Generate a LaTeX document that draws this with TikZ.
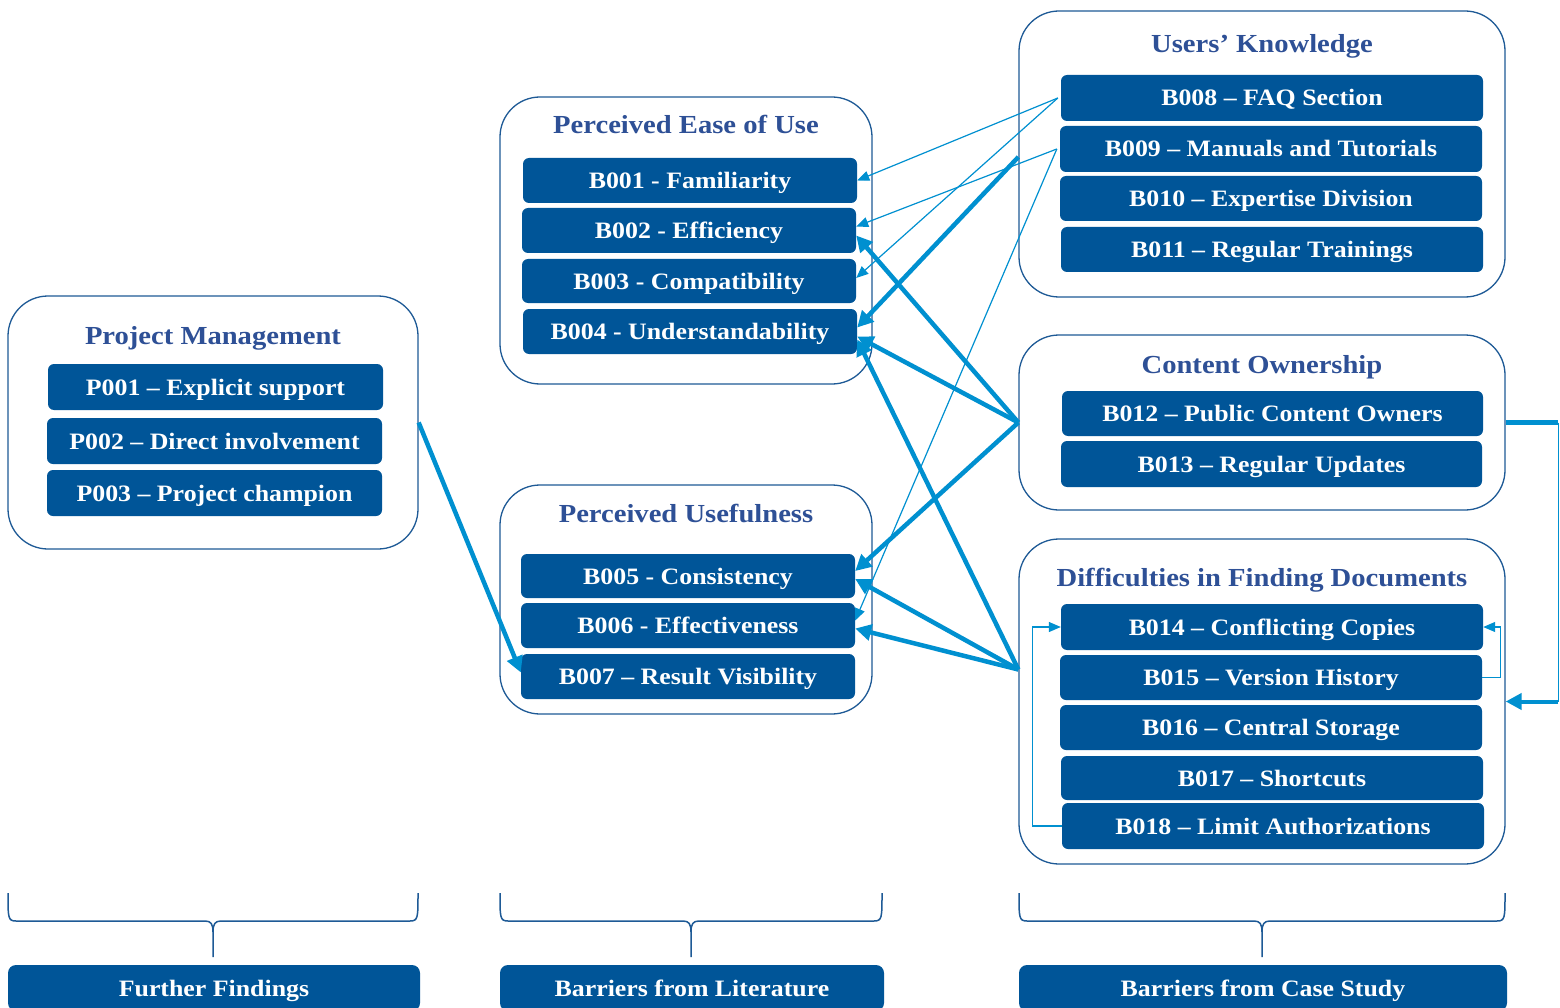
\documentclass[tikz,border=0pt]{standalone}
\usepackage{fontspec}
\setmainfont{Liberation Serif}[FakeStretch=1.1]
\usetikzlibrary{arrows.meta,calc}
\definecolor{boxblue}{RGB}{0,85,152}
\definecolor{titleblue}{RGB}{46,80,150}
\definecolor{grpline}{RGB}{30,90,150}
\definecolor{arrowblue}{RGB}{0,144,208}
\begin{document}
\begin{tikzpicture}[x=1pt,y=-1pt,
  group/.style={draw=grpline, line width=1.3pt, rounded corners=40pt, inner sep=0, fill=white},
  bar/.style={fill=boxblue, rounded corners=6pt, text=white, font=\bfseries\fontsize{23.5}{26}\selectfont, inner sep=0, minimum height=45pt, text height=19pt, text depth=3pt},
  ttl/.style={text=titleblue, font=\bfseries\fontsize{26}{30}\selectfont, inner sep=0, text height=20pt, text depth=4pt},
  thinarr/.style={draw=arrowblue, line width=1.2pt, -{Triangle[length=12pt,width=10pt]}},
  thickarr/.style={draw=arrowblue, line width=4.5pt, -{Triangle[length=16pt,width=16pt]}},
  thickline/.style={draw=arrowblue, line width=4.5pt},
  bracestyle/.style={draw=grpline, line width=1.5pt},
  foot/.style={fill=boxblue, rounded corners=8pt, text=white, font=\bfseries\fontsize{23.5}{26}\selectfont, inner sep=0, minimum height=46pt, text height=19pt, text depth=3pt}]
\clip (0,0) rectangle (1560,1008);
\fill[white] (0,0) rectangle (1560,1008);

% groups
\node[group, minimum width=410pt, minimum height=253pt] (PM) at (213,422.5) {};
\node[group, minimum width=372pt, minimum height=287pt] (PEU) at (686,240.5) {};
\node[group, minimum width=372pt, minimum height=229pt] (PU) at (686,599.5) {};
\node[group, minimum width=486pt, minimum height=286pt] (UK) at (1262,154) {};
\node[group, minimum width=486pt, minimum height=175pt] (CO) at (1262,422.5) {};
\node[group, minimum width=486pt, minimum height=325pt] (DF) at (1262,701.5) {};

% titles
\node[ttl] (tPM) at (213,336) {Project Management};
\node[ttl] (tPEU) at (686,126) {Perceived Ease of Use};
\node[ttl] (tPU) at (686,514) {Perceived Usefulness};
\node[ttl] (tUK) at (1262,45) {Users’ Knowledge};
\node[ttl] (tCO) at (1262,365) {Content Ownership};
\node[ttl] (tDF) at (1262,578) {Difficulties in Finding Documents};

% bars
\node[bar, minimum width=335pt, minimum height=46pt] (P001) at (215.5,387) {P001 – Explicit support};
\node[bar, minimum width=335pt, minimum height=46pt] (P002) at (214.5,441) {P002 – Direct involvement};
\node[bar, minimum width=335pt, minimum height=46pt] (P003) at (214.5,493) {P003 – Project champion};

\node[bar, minimum width=334pt] (B001) at (690,180.5) {B001 - Familiarity};
\node[bar, minimum width=334pt] (B002) at (689,230.5) {B002 - Efficiency};
\node[bar, minimum width=334pt, minimum height=44pt] (B003) at (689,281) {B003 - Compatibility};
\node[bar, minimum width=334pt] (B004) at (690,331.5) {B004 - Understandability};

\node[bar, minimum width=334pt, minimum height=44pt] (B005) at (688,576) {B005 - Consistency};
\node[bar, minimum width=334pt] (B006) at (688,625.5) {B006 - Effectiveness};
\node[bar, minimum width=334pt] (B007) at (688,676.5) {B007 – Result Visibility};

\node[bar, minimum width=422pt, minimum height=46pt] (B008) at (1272,98) {B008 – FAQ Section};
\node[bar, minimum width=422pt, minimum height=46pt] (B009) at (1271,149) {B009 – Manuals and Tutorials};
\node[bar, minimum width=422pt] (B010) at (1271,198.5) {B010 – Expertise Division};
\node[bar, minimum width=422pt] (B011) at (1272,249.5) {B011 – Regular Trainings};

\node[bar, minimum width=421pt] (B012) at (1272.5,413.5) {B012 – Public Content Owners};
\node[bar, minimum width=421pt, minimum height=46pt] (B013) at (1271.5,464) {B013 – Regular Updates};

\node[bar, minimum width=422pt, minimum height=46pt] (B014) at (1272,627) {B014 – Conflicting Copies};
\node[bar, minimum width=422pt] (B015) at (1271,677.5) {B015 – Version History};
\node[bar, minimum width=422pt] (B016) at (1271,727.5) {B016 – Central Storage};
\node[bar, minimum width=422pt, minimum height=44pt] (B017) at (1272,778) {B017 – Shortcuts};
\node[bar, minimum width=422pt, minimum height=46pt] (B018) at (1273,826) {B018 – Limit Authorizations};

% footer labels
\node[foot, minimum width=412pt] (FF) at (214,988) {Further Findings};
\node[foot, minimum width=384pt] (BL) at (692,988) {Barriers from Literature};
\node[foot, minimum width=488pt] (BC) at (1263,988) {Barriers from Case Study};

% braces
\draw[bracestyle] (8,893) .. controls (8,918) and (8,921) .. (16,921) -- (205,921) .. controls (211,921) and (213,924) .. (213,932) -- (213,957);
\draw[bracestyle] (418,893) .. controls (418,918) and (418,921) .. (410,921) -- (221,921) .. controls (215,921) and (213,924) .. (213,932);
\draw[bracestyle] (500,893) .. controls (500,918) and (500,921) .. (508,921) -- (683,921) .. controls (689,921) and (691,924) .. (691,932) -- (691,957);
\draw[bracestyle] (882,893) .. controls (882,918) and (882,921) .. (874,921) -- (699,921) .. controls (693,921) and (691,924) .. (691,932);
\draw[bracestyle] (1019,893) .. controls (1019,918) and (1019,921) .. (1027,921) -- (1254,921) .. controls (1260,921) and (1262,924) .. (1262,932) -- (1262,957);
\draw[bracestyle] (1505,893) .. controls (1505,918) and (1505,921) .. (1497,921) -- (1270,921) .. controls (1264,921) and (1262,924) .. (1262,932);

% thin arrows
\draw[thinarr] ([xshift=-3pt]B008.west) -- (B001.east);
\draw[thinarr] ([xshift=-3pt]B008.west) -- ([yshift=3pt]B003.east);
\draw[thinarr] ([xshift=-3pt]B009.west) -- ([yshift=4pt]B002.east);
\draw[thinarr] ([xshift=-3pt]B009.west) -- ([yshift=5pt]B006.east);

% thick arrows
\draw[thickarr] ([yshift=-3pt]UK.west) -- ([yshift=4pt]B004.east);
\draw[thickarr] (CO.west) -- ([yshift=-5pt]B002.east);
\draw[thickarr] (CO.west) -- ([yshift=-5pt]B004.east);
\draw[thickarr] (CO.west) -- ([yshift=5pt]B005.east);
\draw[thickarr] ([yshift=32pt]DF.west) -- ([yshift=-8pt]B004.east);
\draw[thickarr] ([yshift=32pt]DF.west) -- ([yshift=-3pt]B005.east);
\draw[thickarr] ([yshift=32pt]DF.west) -- ([yshift=-3pt]B006.east);
\draw[thickarr] (PM.east) -- ([yshift=4pt]B007.west);

% right-side loop
\coordinate (r1) at (1558,422.5);
\coordinate (r2) at (1558,701.5);
\draw[thickline] (CO.east) -- (r1);
\draw[draw=arrowblue, line width=1pt] (r1) -- (r2);
\draw[thickarr, line width=4pt] (r2) -- (DF.east);

% internal loops
\draw[thinarr] (B015.east) -- ++(18,0) |- (B014.east);
\draw[thinarr] (B018.west) -- ++(-29,0) |- (B014.west);
\end{tikzpicture}
\end{document}
